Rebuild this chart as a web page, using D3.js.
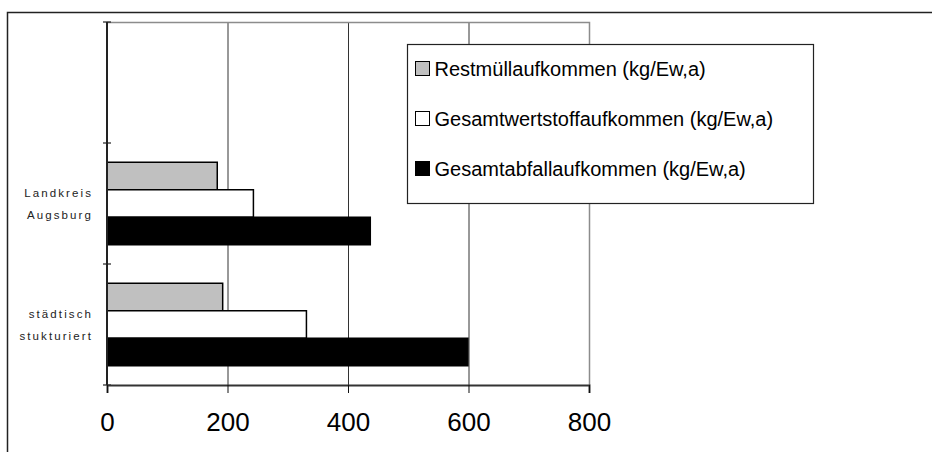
<!DOCTYPE html>
<html>
<head>
<meta charset="utf-8">
<script src="https://cdn.jsdelivr.net/npm/d3@7"></script>
<style>
    body { margin: 0; background: #fff; }
    svg { display: block; font-family: "Liberation Sans", Arial, sans-serif; }
</style>
</head>
<body>
<script>
// horizontal grouped bar chart, waste amounts per inhabitant

//categories from top to bottom (top slot is empty in the original)
var categories = ["", "Landkreis Augsburg", "städtisch stukturiert"];
var categoryLines = [[], ["Landkreis", "Augsburg"], ["städtisch", "stukturiert"]];

//series names and values (kg/Ew,a)
var seriesNames = [
    "Restmüllaufkommen (kg/Ew,a)",
    "Gesamtwertstoffaufkommen (kg/Ew,a)",
    "Gesamtabfallaufkommen (kg/Ew,a)"
];
var restmuell = [null, 183, 192];
var wertstoff = [null, 243, 331];
var gesamtabfall = [null, 437, 599];
var seriesColors = ["#c0c0c0", "#ffffff", "#000000"];

var xTicks = [0, 200, 400, 600, 800];

window.onload = drawChart();

function drawChart(){
    var width = 932,
        height = 452;

    var svg = d3.select("body")
        .append("svg")
        .attr("width", width)
        .attr("height", height);

    //outer frame (runs past right and bottom edge)
    svg.append("rect")
        .attr("x", 7.5)
        .attr("y", 12.5)
        .attr("width", 940)
        .attr("height", 460)
        .attr("fill", "none")
        .attr("stroke", "#222")
        .attr("stroke-width", 1.5);

    var plot = {left: 107, right: 589, top: 22, bottom: 385};

    var x = d3.scaleLinear()
        .domain([0, 800])
        .range([plot.left, plot.right]);

    var y = d3.scaleBand()
        .domain(categories)
        .range([plot.top, plot.bottom]);

    var ySub = d3.scaleBand()
        .domain(d3.range(seriesNames.length))
        .range([0, y.bandwidth()])
        .paddingInner(0)
        .paddingOuter(0.7);

    var allSeries = [restmuell, wertstoff, gesamtabfall];

    //gridlines
    svg.selectAll(".grid")
        .data(xTicks.slice(1, -1))
        .enter()
        .append("line")
        .attr("class", "grid")
        .attr("x1", function(d){ return x(d) + 0.5; })
        .attr("x2", function(d){ return x(d) + 0.5; })
        .attr("y1", plot.top)
        .attr("y2", plot.bottom)
        .attr("stroke", "#333")
        .attr("stroke-width", 1);

    //top and right border of plot area
    svg.append("path")
        .attr("d", "M" + plot.left + "," + (plot.top + 0.5) + "H" + (plot.right + 0.5) + "V" + plot.bottom)
        .attr("fill", "none")
        .attr("stroke", "#8c8c8c")
        .attr("stroke-width", 1.5);

    //bars
    var groups = svg.selectAll(".cat")
        .data(categories)
        .enter()
        .append("g")
        .attr("class", "cat")
        .attr("transform", function(d){ return "translate(0," + y(d) + ")"; });

    groups.selectAll("rect")
        .data(function(d, i){
            return allSeries.map(function(s, j){ return {series: j, value: s[i]}; })
                .filter(function(v){ return v.value != null; });
        })
        .enter()
        .append("rect")
        .attr("x", x(0))
        .attr("y", function(d){ return ySub(d.series); })
        .attr("width", function(d){ return x(d.value) - x(0); })
        .attr("height", ySub.bandwidth())
        .attr("fill", function(d){ return seriesColors[d.series]; })
        .attr("stroke", "#000")
        .attr("stroke-width", 1.5);

    //category labels
    groups.each(function(d, i){
        var lines = categoryLines[i];
        var cy = y.bandwidth() / 2;
        d3.select(this).selectAll("text")
            .data(lines)
            .enter()
            .append("text")
            .attr("x", 93)
            .attr("y", function(l, k){ return cy + (k - (lines.length - 1) / 2) * 22 + 4; })
            .attr("text-anchor", "end")
            .attr("font-size", 11.5)
            .attr("letter-spacing", 2.1)
            .attr("fill", "#222")
            .text(function(l){ return l; });
    });

    //left axis
    svg.append("line")
        .attr("x1", plot.left)
        .attr("x2", plot.left)
        .attr("y1", plot.top)
        .attr("y2", plot.bottom)
        .attr("stroke", "#222")
        .attr("stroke-width", 2);

    var yTickPos = categories.map(function(c){ return y(c); }).concat([plot.bottom]);
    svg.selectAll(".ytick")
        .data(yTickPos)
        .enter()
        .append("line")
        .attr("class", "ytick")
        .attr("x1", plot.left - 4)
        .attr("x2", plot.left + 4)
        .attr("y1", function(d){ return d; })
        .attr("y2", function(d){ return d; })
        .attr("stroke", "#222")
        .attr("stroke-width", 1.2);

    //bottom axis
    var xAxis = d3.axisBottom(x)
        .tickValues(xTicks)
        .tickSize(8)
        .tickPadding(20)
        .tickFormat(d3.format("d"));

    var xg = svg.append("g")
        .attr("transform", "translate(0," + plot.bottom + ")")
        .call(xAxis);

    xg.select(".domain")
        .attr("stroke", "#333")
        .attr("stroke-width", 2);
    xg.selectAll(".tick line")
        .attr("stroke", "#111");
    xg.selectAll(".tick text")
        .attr("font-family", "Liberation Sans, Arial, sans-serif")
        .attr("font-size", 26)
        .attr("fill", "#000")
        .attr("dy", "0.71em");

    //legend
    var legend = svg.append("g")
        .attr("transform", "translate(407.5,44.5)");

    legend.append("rect")
        .attr("width", 406)
        .attr("height", 159)
        .attr("fill", "#fff")
        .attr("stroke", "#222")
        .attr("stroke-width", 1.2);

    var item = legend.selectAll(".item")
        .data(seriesNames)
        .enter()
        .append("g")
        .attr("class", "item")
        .attr("transform", function(d, i){ return "translate(0," + (24 + i * 50) + ")"; });

    item.append("rect")
        .attr("x", 8)
        .attr("y", -7)
        .attr("width", 14)
        .attr("height", 14)
        .attr("fill", function(d, i){ return seriesColors[i]; })
        .attr("stroke", "#000")
        .attr("stroke-width", 1);

    item.append("text")
        .attr("x", 27)
        .attr("y", 7)
        .attr("font-size", 20)
        .attr("fill", "#000")
        .text(function(d){ return d; });
};
</script>
</body>
</html>
